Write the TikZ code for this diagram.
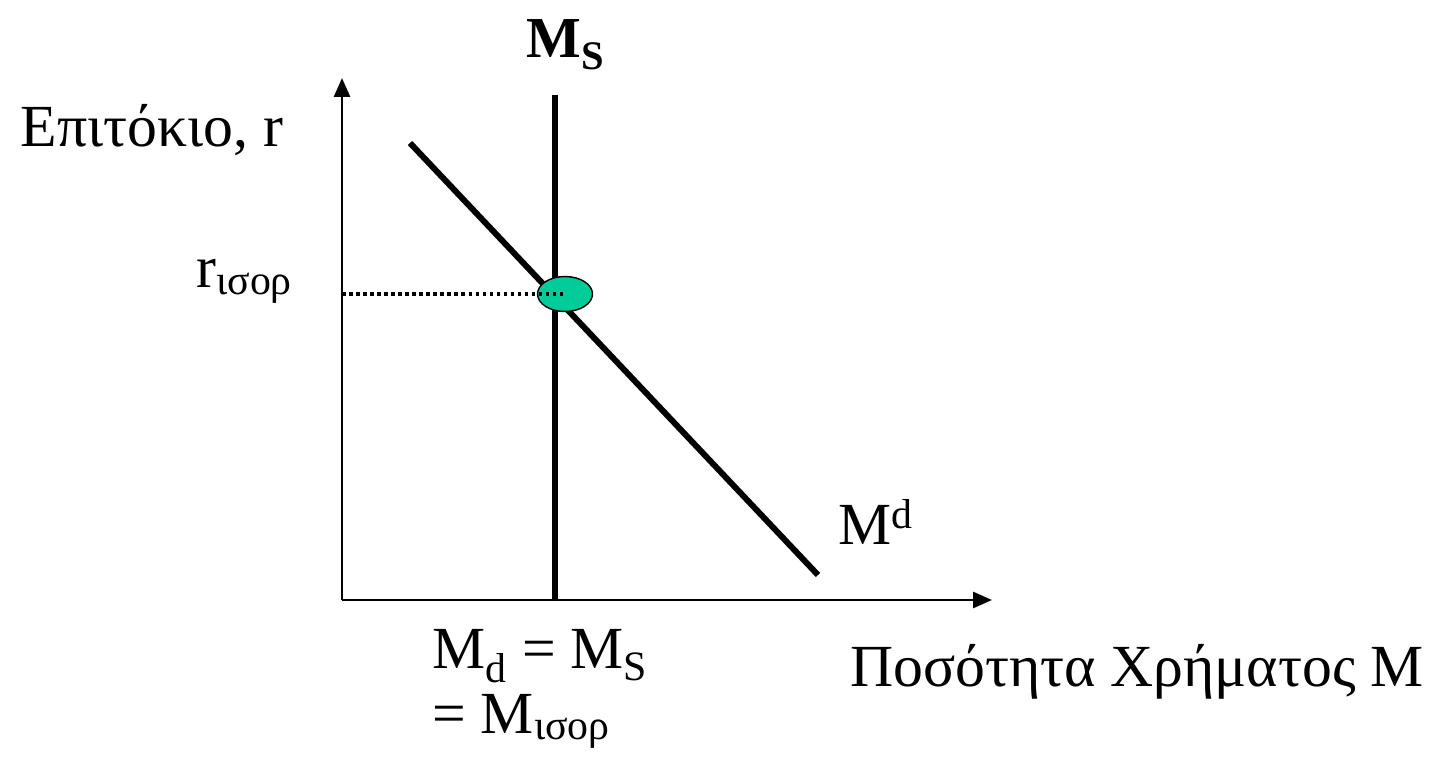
\documentclass[tikz,border=0pt]{standalone}
\usepackage{fontspec}
\setmainfont{Liberation Serif}
\usepackage{xcolor}
\usetikzlibrary{arrows.meta,positioning,shapes.geometric}
\definecolor{eqgreen}{RGB}{0,204,153}

\begin{document}
\begin{tikzpicture}[x=0.02cm,y=-0.02cm,font=\fontsize{34}{40}\selectfont,
  axis/.style={line width=1.6pt,-{Triangle[length=0.38cm,width=0.32cm]}},
  curve/.style={line width=3.4pt}]
\useasboundingbox (0,0) rectangle (1437,763);
\coordinate (o) at (342,600);
\coordinate (ytop) at (342,78);
\coordinate (xend) at (992,600);
\draw[axis] (o) -- (ytop);
\draw[axis] (o) -- (xend);
% money supply and money demand
\coordinate (mstop) at (555,95);
\coordinate (msbot) at (555,600);
\coordinate (mdtop) at (410,143);
\coordinate (mdbot) at (818,575);
\draw[curve] (mstop) -- (msbot);
\draw[curve] (mdtop) -- (mdbot);
% equilibrium
\node[ellipse,draw=black,line width=0.8pt,fill=eqgreen,minimum width=1.1cm,minimum height=0.7cm,inner sep=0pt] (eq) at (565,294) {};
\coordinate (ry) at (342,294);
\draw[dotted,line width=2pt] (ry) -- (eq.center);
% labels
\node (rlab) at (152,130) {Επιτόκιο, r};
\node[font=\fontsize{33}{40}\selectfont\bfseries] (mslab) at (566,45) {M\textsubscript{S}};
\node[anchor=base west,inner sep=0pt] (rieq) at (196,288) {r\textsubscript{ισορ}};
\node (mdlab) at (876,522) {M\textsuperscript{d}};
\node (xlab) at (1137,672) {Ποσότητα Χρήματος Μ};
\node[anchor=west,inner sep=0pt,align=left,font=\fontsize{34}{37}\selectfont] (eqlab) at (432,689)
  {M\textsubscript{d} = M\textsubscript{S}\\= M\textsubscript{ισορ}};
\end{tikzpicture}
\end{document}
